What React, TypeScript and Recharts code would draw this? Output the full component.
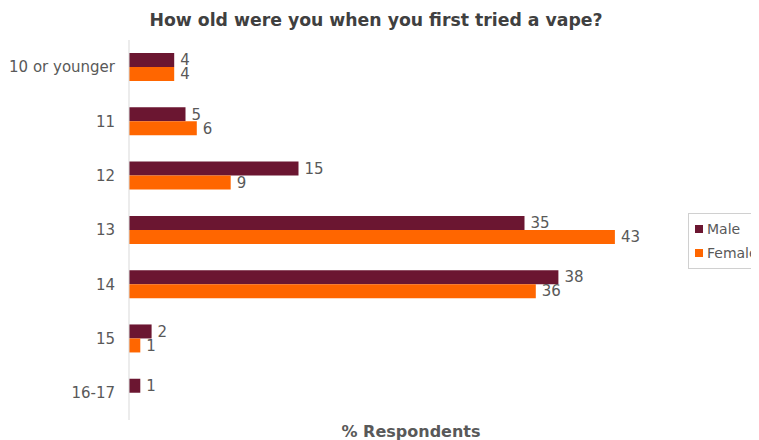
import React from "react";
import { BarChart, Bar, XAxis, YAxis, LabelList } from "recharts";

const categories = ["10 or younger", "11", "12", "13", "14", "15", "16-17"];
const maleValues = [4, 5, 15, 35, 38, 2, 1];
const femaleValues: (number | null)[] = [4, 6, 9, 43, 36, 1, null];
const seriesNames = ["Male", "Female"];
const colors = ["#6B1631", "#FF6600"];

const data = categories.map((c, i) => ({
  age: c,
  male: maleValues[i],
  female: femaleValues[i],
}));

const FONT = "'DejaVu Sans', Verdana, sans-serif";

const LegendBox = () => (
  <div
    style={{
      position: "absolute",
      left: 680,
      top: 205,
      border: "1px solid #d0d0d0",
      padding: "3px 0 3px 6px",
      fontFamily: FONT,
      fontSize: 14,
      color: "#595959",
      width: 90,
      boxSizing: "border-box",
      background: "#fff",
    }}
  >
    {seriesNames.map((n, i) => (
      <div key={n} style={{ display: "flex", alignItems: "center", height: 24 }}>
        <span style={{ display: "inline-block", width: 8, height: 8, background: colors[i], marginRight: 4 }} />
        <span>{n}</span>
      </div>
    ))}
  </div>
);

export default function App() {
  return (
    <div style={{ position: "relative", width: 751, height: 432, overflow: "visible" }}>
      <div
        style={{
          position: "absolute",
          left: 0,
          width: 736,
          top: 2,
          textAlign: "center",
          fontFamily: FONT,
          fontWeight: "bold",
          fontSize: 17.3,
          color: "#404040",
        }}
      >
        How old were you when you first tried a vape?
      </div>
      <BarChart
        width={751}
        height={432}
        data={data}
        layout="vertical"
        margin={{ top: 32, right: 65, bottom: 20, left: 0 }}
        barGap={0}
        barCategoryGap="24%"
      >
        <XAxis type="number" domain={[0, 50]} hide />
        <YAxis
          type="category"
          dataKey="age"
          width={121}
          tickLine={false}
          axisLine={{ stroke: "#d9d9d9" }}
          tickMargin={8}
          tick={{ fontSize: 15, fill: "#595959", fontFamily: FONT }}
        />
        <Bar dataKey="male" name="Male" fill={colors[0]} isAnimationActive={false}>
          <LabelList dataKey="male" position="right" offset={6} style={{ fontSize: 15, fill: "#595959", fontFamily: FONT }} />
        </Bar>
        <Bar dataKey="female" name="Female" fill={colors[1]} isAnimationActive={false}>
          <LabelList dataKey="female" position="right" offset={6} style={{ fontSize: 15, fill: "#595959", fontFamily: FONT }} />
        </Bar>
      </BarChart>
      <LegendBox />
      <div
        style={{
          position: "absolute",
          left: 0,
          width: 806,
          top: 414,
          textAlign: "center",
          fontFamily: FONT,
          fontWeight: "bold",
          fontSize: 16,
          color: "#595959",
        }}
      >
        % Respondents
      </div>
    </div>
  );
}
